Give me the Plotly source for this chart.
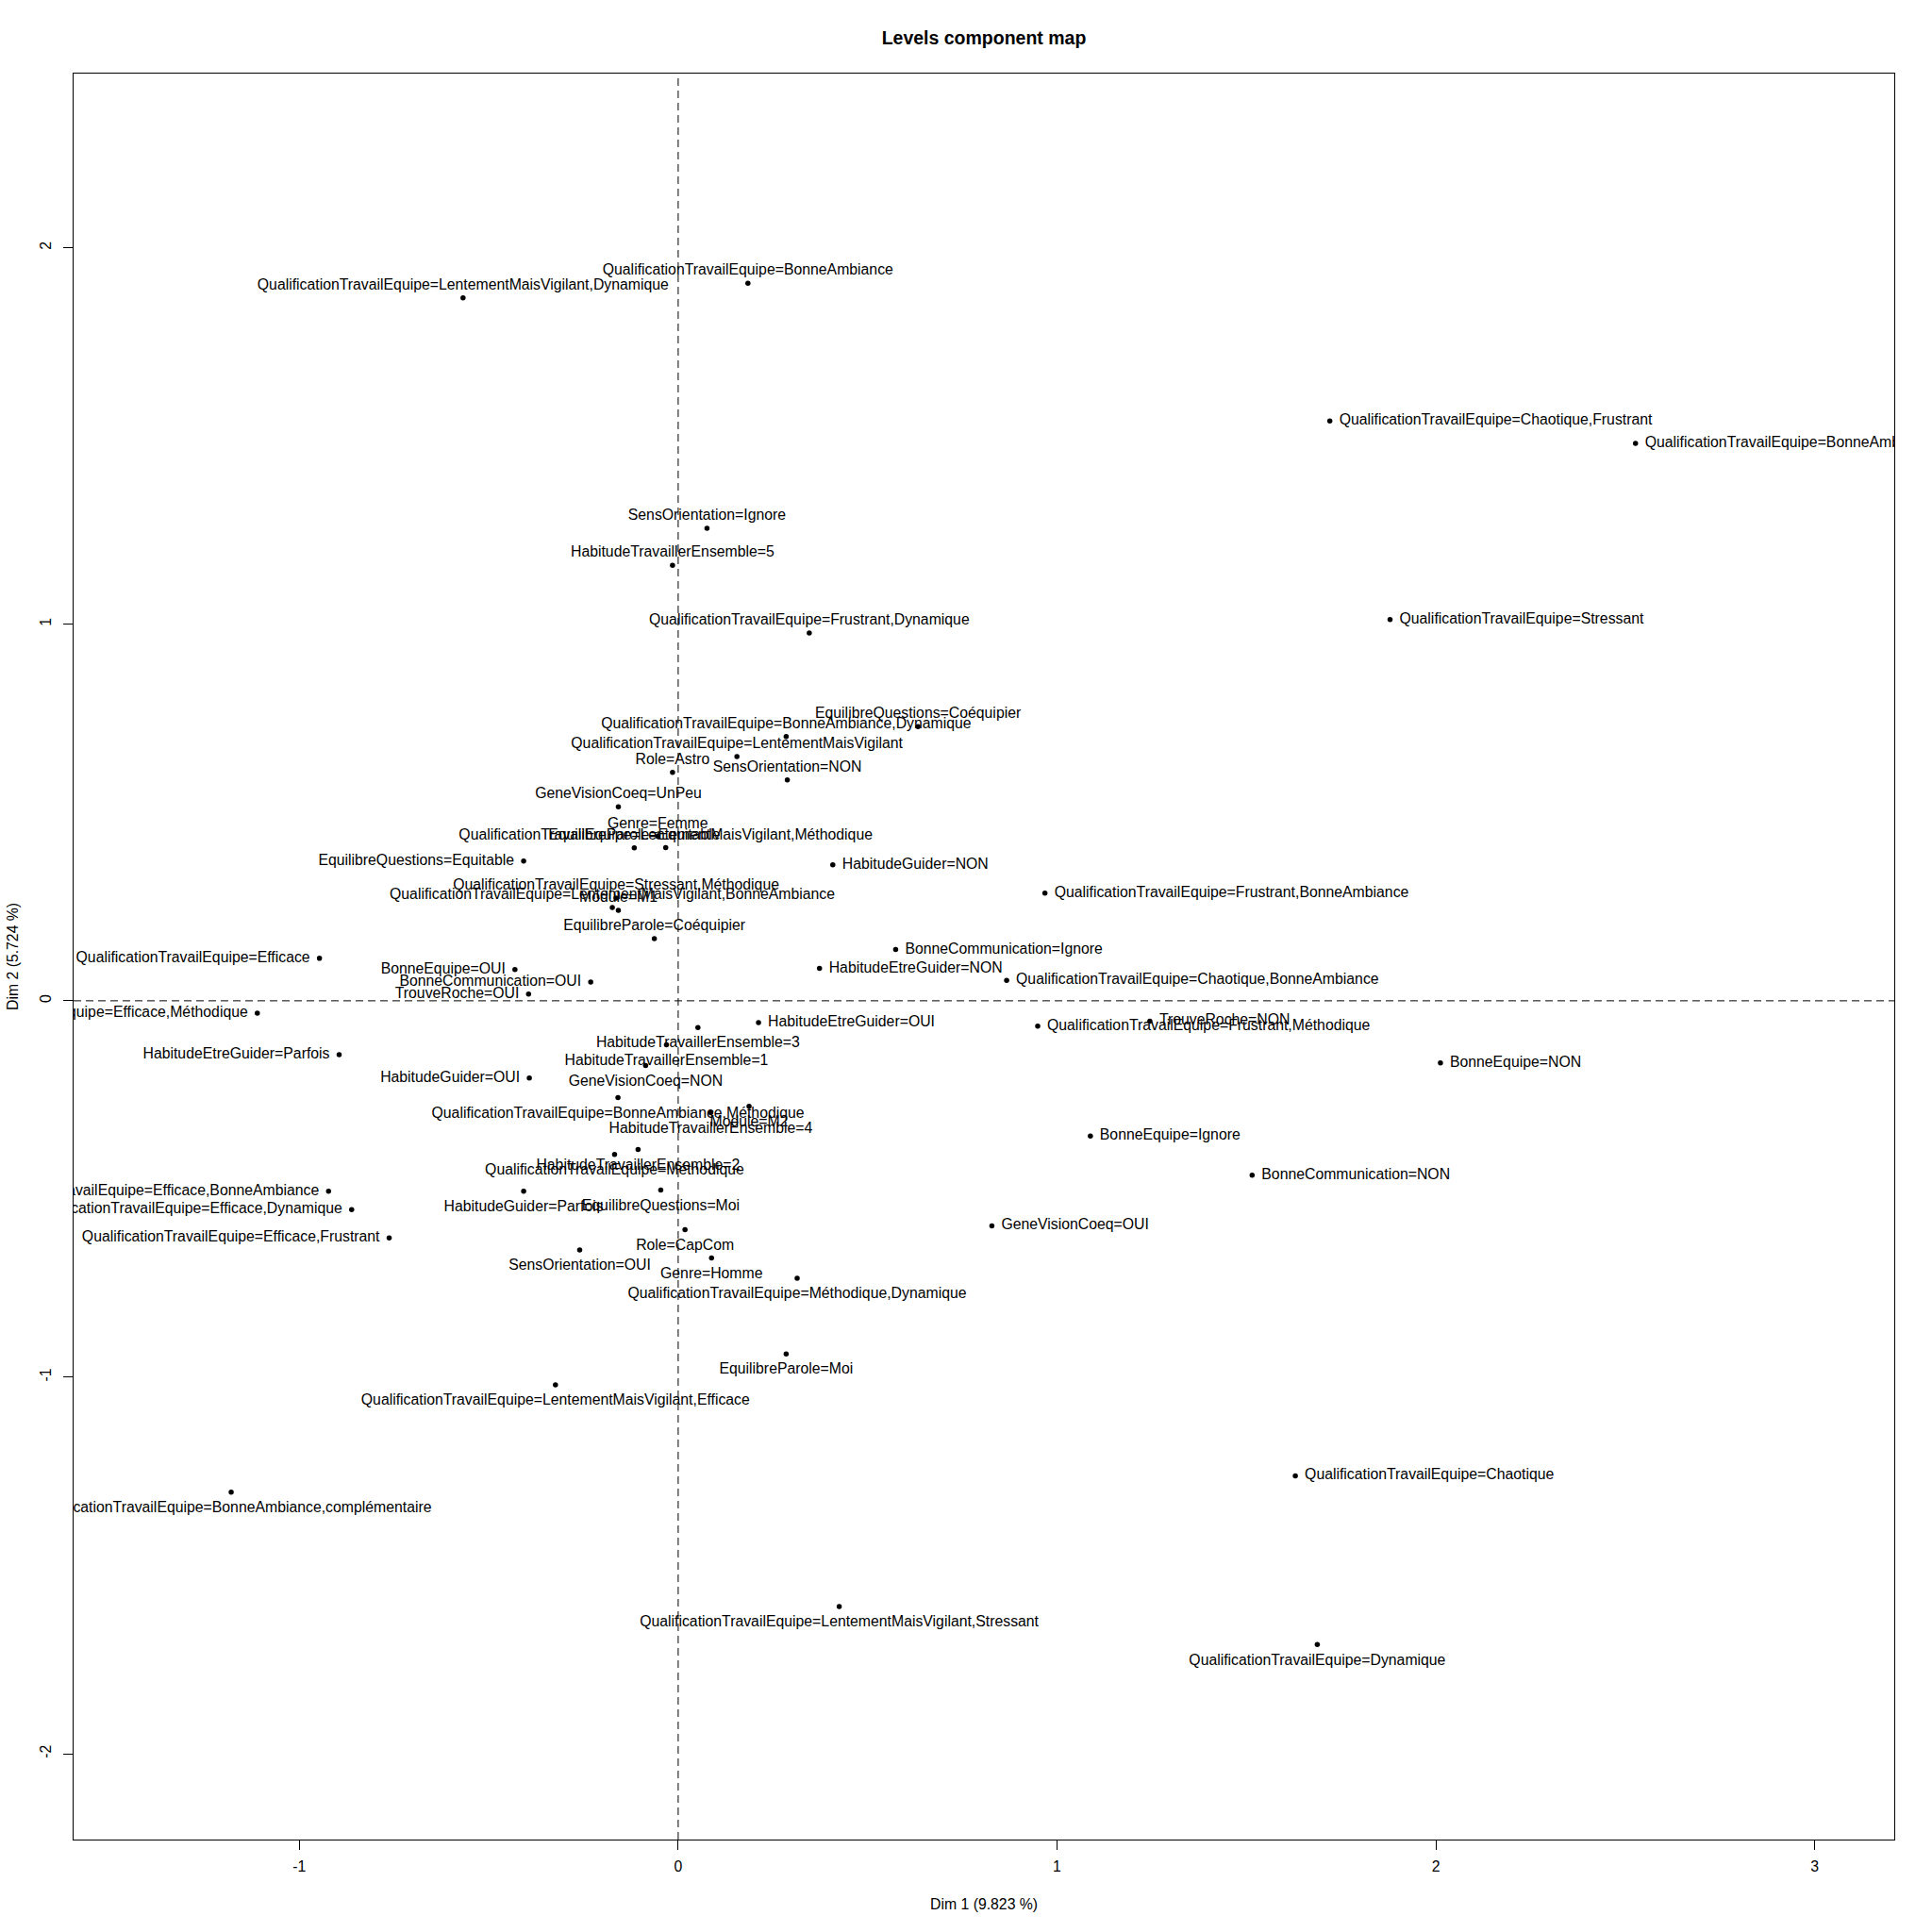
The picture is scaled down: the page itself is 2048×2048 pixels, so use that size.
import plotly.graph_objects as go

Q = "QualificationTravailEquipe="
categories = [
    Q + "LentementMaisVigilant,Dynamique", Q + "BonneAmbiance", Q + "Chaotique,Frustrant",
    Q + "BonneAmbiance,Stressant", "SensOrientation=Ignore", "HabitudeTravaillerEnsemble=5",
    Q + "Frustrant,Dynamique", Q + "Stressant", "EquilibreQuestions=Coéquipier",
    Q + "BonneAmbiance,Dynamique", Q + "LentementMaisVigilant", "Role=Astro",
    "SensOrientation=NON", "GeneVisionCoeq=UnPeu", "Genre=Femme",
    Q + "LentementMaisVigilant,Méthodique", "EquilibreParole=Equitable", "EquilibreQuestions=Equitable",
    "HabitudeGuider=NON", Q + "Stressant,Méthodique", Q + "LentementMaisVigilant,BonneAmbiance",
    "Module=M1", Q + "Frustrant,BonneAmbiance", "EquilibreParole=Coéquipier",
    Q + "Efficace", "BonneCommunication=Ignore", "BonneEquipe=OUI",
    "HabitudeEtreGuider=NON", "BonneCommunication=OUI", Q + "Chaotique,BonneAmbiance",
    "TrouveRoche=OUI", Q + "Efficace,Méthodique", "HabitudeEtreGuider=OUI",
    "HabitudeTravaillerEnsemble=3", Q + "Frustrant,Méthodique", "TrouveRoche=NON",
    "HabitudeEtreGuider=Parfois", "HabitudeTravaillerEnsemble=1", "BonneEquipe=NON",
    "HabitudeGuider=OUI", "GeneVisionCoeq=NON", Q + "BonneAmbiance,Méthodique",
    "Module=M2", "HabitudeTravaillerEnsemble=4", "BonneEquipe=Ignore",
    "HabitudeTravaillerEnsemble=2", Q + "Méthodique", "BonneCommunication=NON",
    Q + "Efficace,BonneAmbiance", "HabitudeGuider=Parfois", "EquilibreQuestions=Moi",
    Q + "Efficace,Dynamique", "GeneVisionCoeq=OUI", "Role=CapCom",
    Q + "Efficace,Frustrant", "SensOrientation=OUI", "Genre=Homme",
    Q + "Méthodique,Dynamique", "EquilibreParole=Moi", Q + "LentementMaisVigilant,Efficace",
    Q + "BonneAmbiance,complémentaire", Q + "Chaotique", Q + "LentementMaisVigilant,Stressant",
    Q + "Dynamique",
]

dim1 = [
    -0.568, 0.184, 1.720, 2.527, 0.076, -0.015, 0.346, 1.879, 0.633, 0.285,
    0.155, -0.015, 0.288, -0.158, -0.054, -0.033, -0.116, -0.408, 0.408, -0.164,
    -0.174, -0.158, 0.968, -0.063, -0.947, 0.574, -0.431, 0.373, -0.231, 0.867,
    -0.395, -1.111, 0.212, 0.052, 0.949, 1.245, -0.895, -0.031, 2.012, -0.393,
    -0.086, -0.159, 0.187, 0.086, 1.088, -0.106, -0.168, 1.515, -0.923, -0.408,
    -0.046, -0.862, 0.828, 0.018, -0.763, -0.260, 0.088, 0.314, 0.285, -0.324,
    -1.180, 1.629, 0.425, 1.687,
]

dim2 = [
    1.867, 1.906, 1.540, 1.481, 1.255, 1.157, 0.977, 1.013, 0.728, 0.702,
    0.649, 0.607, 0.587, 0.515, 0.437, 0.407, 0.406, 0.371, 0.361, 0.273,
    0.248, 0.240, 0.286, 0.165, 0.113, 0.136, 0.083, 0.086, 0.050, 0.054,
    0.018, -0.033, -0.058, -0.071, -0.067, -0.054, -0.143, -0.117, -0.165, -0.205,
    -0.172, -0.257, -0.280, -0.297, -0.359, -0.395, -0.408, -0.463, -0.506, -0.506,
    -0.503, -0.555, -0.598, -0.608, -0.630, -0.662, -0.683, -0.737, -0.938, -1.020,
    -1.305, -1.262, -1.609, -1.710,
]

x_ticks = [-1, 0, 1, 2, 3]
y_ticks = [-2, -1, 0, 1, 2]
title_text = "Levels component map"
x_title = "Dim 1 (9.823 %)"
y_title = "Dim 2 (5.724 %)"

# label placement around each point (T=above, B=below, L=left, R=right)
label_side = (
    "TTRRTTTRTT" "TTTTTTTLRT" "TTRTLRLRLR" "LLRBRRLBRL"
    "BBBBRBBRLB" "BLRBLBBBBB" "BRBB"
)

FONT = "Liberation Sans, Arial, sans-serif"
FS = 15.8

fig = go.Figure()

fig.add_trace(go.Scatter(
    x=dim1, y=dim2, mode="markers",
    marker=dict(color="black", size=5.5, line=dict(width=0)),
    hoverinfo="skip", cliponaxis=True, showlegend=False,
))

side_cfg = {
    "T": ("top center", 6.4),
    "B": ("bottom center", 13.4),
    "L": ("middle left", 14.4),
    "R": ("middle right", 14.4),
}
for side, (tpos, msize) in side_cfg.items():
    idx = [i for i, s in enumerate(label_side) if s == side]
    fig.add_trace(go.Scatter(
        x=[dim1[i] for i in idx], y=[dim2[i] for i in idx],
        text=[categories[i] for i in idx],
        mode="markers+text", textposition=tpos,
        marker=dict(color="rgba(0,0,0,0)", size=msize, line=dict(width=0)),
        textfont=dict(family=FONT, size=FS, color="black"),
        hoverinfo="skip", cliponaxis=True, showlegend=False,
    ))

fig.add_shape(type="line", xref="x", yref="paper", x0=0, x1=0, y0=0, y1=1,
              line=dict(color="black", width=1, dash="8px,5px"), layer="above")
fig.add_shape(type="line", xref="paper", yref="y", x0=0, x1=1, y0=0, y1=0,
              line=dict(color="black", width=1, dash="8px,5px"), layer="above")

axis_common = dict(
    showgrid=False, zeroline=False, showline=True, linecolor="black", linewidth=1.3,
    mirror=True, ticks="outside", ticklen=10, tickwidth=1, tickcolor="black",
    tickfont=dict(family=FONT, size=FS, color="black"),
)
fig.update_xaxes(range=[-1.596, 3.210], tickvals=x_ticks, ticktext=[str(v) for v in x_ticks],
                 ticklabelstandoff=4, **axis_common)
fig.update_yaxes(range=[-2.228, 2.463], tickvals=y_ticks, ticktext=[str(v) for v in y_ticks],
                 tickangle=-90, ticklabelstandoff=7, **axis_common)

fig.update_layout(
    width=2048, height=2048,
    margin=dict(l=78, r=40, t=78, b=98),
    plot_bgcolor="white", paper_bgcolor="white",
    font=dict(family=FONT, color="black"),
    title=dict(text="<b>" + title_text + "</b>", x=0.5, xref="paper", xanchor="center",
               y=1 - 40.5 / 2048, yref="container", yanchor="middle",
               font=dict(family=FONT, size=19.5, color="black")),
    annotations=[
        dict(text=x_title, xref="paper", yref="paper", x=0.5, y=-(2018 - 1950) / 1872,
             xanchor="center", yanchor="middle", showarrow=False,
             font=dict(family=FONT, size=FS, color="black")),
        dict(text=y_title, xref="paper", yref="paper", x=(13 - 78) / 1930, y=0.5,
             xanchor="center", yanchor="middle", textangle=-90, showarrow=False,
             font=dict(family=FONT, size=FS, color="black")),
    ],
)

fig.write_html("out.html")
